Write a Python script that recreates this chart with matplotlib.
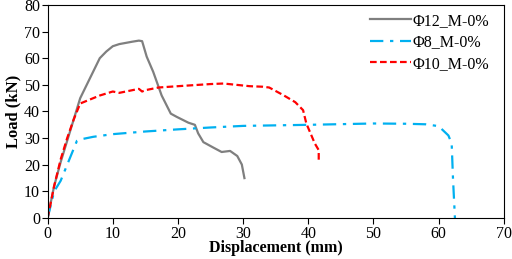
import matplotlib
matplotlib.use("Agg")
import matplotlib.pyplot as plt

plt.rcParams["font.family"] = ["Liberation Serif", "DejaVu Serif"]

# Phi12 (grey, solid)
x12 = [0, 1, 2, 3, 4, 5, 6, 7, 8, 9, 10, 11, 13, 14, 14.5, 15.2, 16.2, 17.5,
       18.9, 19.8, 21.6, 22.6, 23.1, 23.9, 25.4, 26.7, 28, 29.1, 29.8, 30.2]
y12 = [0, 12, 21, 29, 37, 45, 50, 55, 60, 62.5, 64.5, 65.3, 66.2, 66.6, 66.4,
       60.6, 54.9, 46, 39.2, 38, 35.8, 35, 31.8, 28.5, 26.5, 24.8, 25.2, 23.3,
       20.1, 15]

# Phi8 (blue, dash-dot)
x8 = [0, 0.5, 1, 2, 3, 4, 4.5, 5, 7, 10, 15, 20, 25, 30, 40, 50, 55, 58,
      60, 61.5, 62, 62.2, 62.5]
y8 = [0, 5, 10, 14, 20, 26, 29, 29.5, 30.5, 31.5, 32.5, 33.3, 34, 34.6, 35,
      35.5, 35.4, 35.2, 34.5, 31, 28, 15, 0]

# Phi10 (red, dashed)
x10 = [0, 1, 2, 3, 4, 5, 6, 8, 10, 11, 12, 14, 14.5, 15, 17, 20, 25, 27, 29,
       31, 33, 34, 36.2, 38, 39.2, 39.7, 41, 41.6, 41.6]
y10 = [0, 12, 22, 30, 37, 43, 44, 46, 47.5, 47, 47.5, 48.5, 47.5, 48, 49,
       49.5, 50.3, 50.5, 50, 49.5, 49.3, 49, 46.1, 43.5, 40.5, 35.5, 28,
       25.5, 21.7]

fig = plt.figure(figsize=(5.12, 2.59), dpi=100)
ax = fig.add_axes([0.093, 0.158, 0.891, 0.823])

ax.plot(x12, y12, color="#7f7f7f", lw=1.6, label="Φ12_M-0%")
ax.plot(x8, y8, color="#00b0f0", lw=1.6, ls=(0, (6, 3, 1.5, 3)), label="Φ8_M-0%")
ax.plot(x10, y10, color="#ff0000", lw=1.6, ls=(0, (3, 1.5)), label="Φ10_M-0%")

ax.set_xlim(0, 70)
ax.set_ylim(0, 80)
ax.set_xticks(range(0, 71, 10))
ax.set_yticks(range(0, 81, 10))
ax.tick_params(labelsize=11.5, length=4, direction="out", pad=1.5)
ax.set_xlabel("Displacement (mm)", fontsize=11.5, fontweight="bold", labelpad=-1)
ax.set_ylabel("Load (kN)", fontsize=12, fontweight="bold", labelpad=2)

ax.legend(loc="upper right", frameon=False, fontsize=11.5, handlelength=2.6,
          handletextpad=0.1, labelspacing=0.35, bbox_to_anchor=(1.0, 1.03))

fig.savefig("out.png", dpi=100)
